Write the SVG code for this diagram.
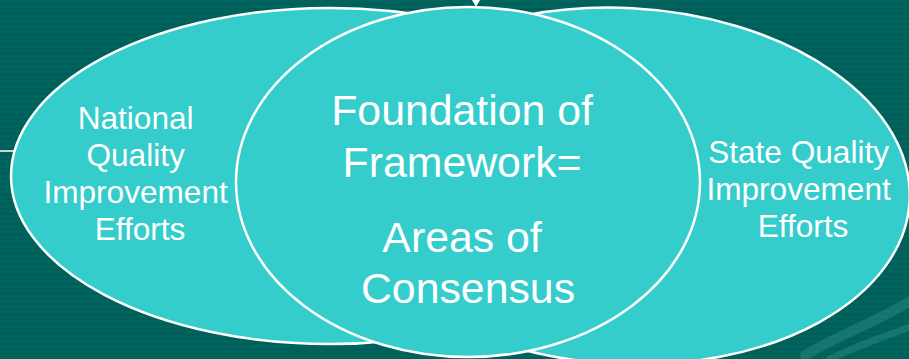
<svg xmlns="http://www.w3.org/2000/svg" width="909" height="359" viewBox="0 0 909 359">
  <defs>
    <pattern id="stripes" width="10" height="5" patternUnits="userSpaceOnUse">
      <rect width="10" height="5" fill="#00645e"/>
      <rect y="3" width="10" height="2" fill="#005d58"/>
    </pattern>
    <style>
      .bubble { fill: #35cccc; stroke: #ffffff; stroke-width: 2.5; }
      .label { font-family: "Liberation Sans", Arial, sans-serif; fill: #ffffff; text-anchor: middle; }
      .side { font-size: 31.6px; }
      .core { font-size: 42.8px; }
      .swoosh { fill: none; stroke: #2f8f88; stroke-opacity: 0.45; stroke-linecap: round; }
    </style>
  </defs>

  <!-- striped backdrop -->
  <rect width="909" height="359" fill="url(#stripes)"/>
  <path class="swoosh" stroke-width="10" d="M805 355 C850 330 880 320 912 300"/>
  <path class="swoosh" stroke-width="7" d="M830 359 C865 342 890 335 912 326"/>
  <line x1="0" y1="151" x2="14" y2="151" stroke="#ffffff" stroke-width="1.5"/>

  <g id="national">
    <ellipse class="bubble" cx="330" cy="176" rx="319" ry="168"/>
    <text class="label side" x="140">
      <tspan x="140" y="129">National</tspan>
      <tspan x="140" y="166">Quality</tspan>
      <tspan x="140" y="203">Improvement</tspan>
      <tspan x="140" y="240">Efforts</tspan>
    </text>
  </g>

  <g id="state">
    <ellipse class="bubble" cx="623" cy="186" rx="287" ry="178" transform="rotate(3 623 186)"/>
    <text class="label side" x="803">
      <tspan x="803" y="163">State Quality</tspan>
      <tspan x="803" y="200">Improvement</tspan>
      <tspan x="803" y="237">Efforts</tspan>
    </text>
  </g>

  <g id="foundation">
    <ellipse class="bubble" cx="468" cy="182" rx="232" ry="175"/>
    <text class="label core" x="468">
      <tspan x="468" y="125">Foundation of</tspan>
      <tspan x="468" y="177">Framework=</tspan>
      <tspan x="468" y="252">Areas of</tspan>
      <tspan x="468" y="303">Consensus</tspan>
    </text>
    <polygon points="472,0 480,0 476,7" fill="#ffffff"/>
  </g>
</svg>
